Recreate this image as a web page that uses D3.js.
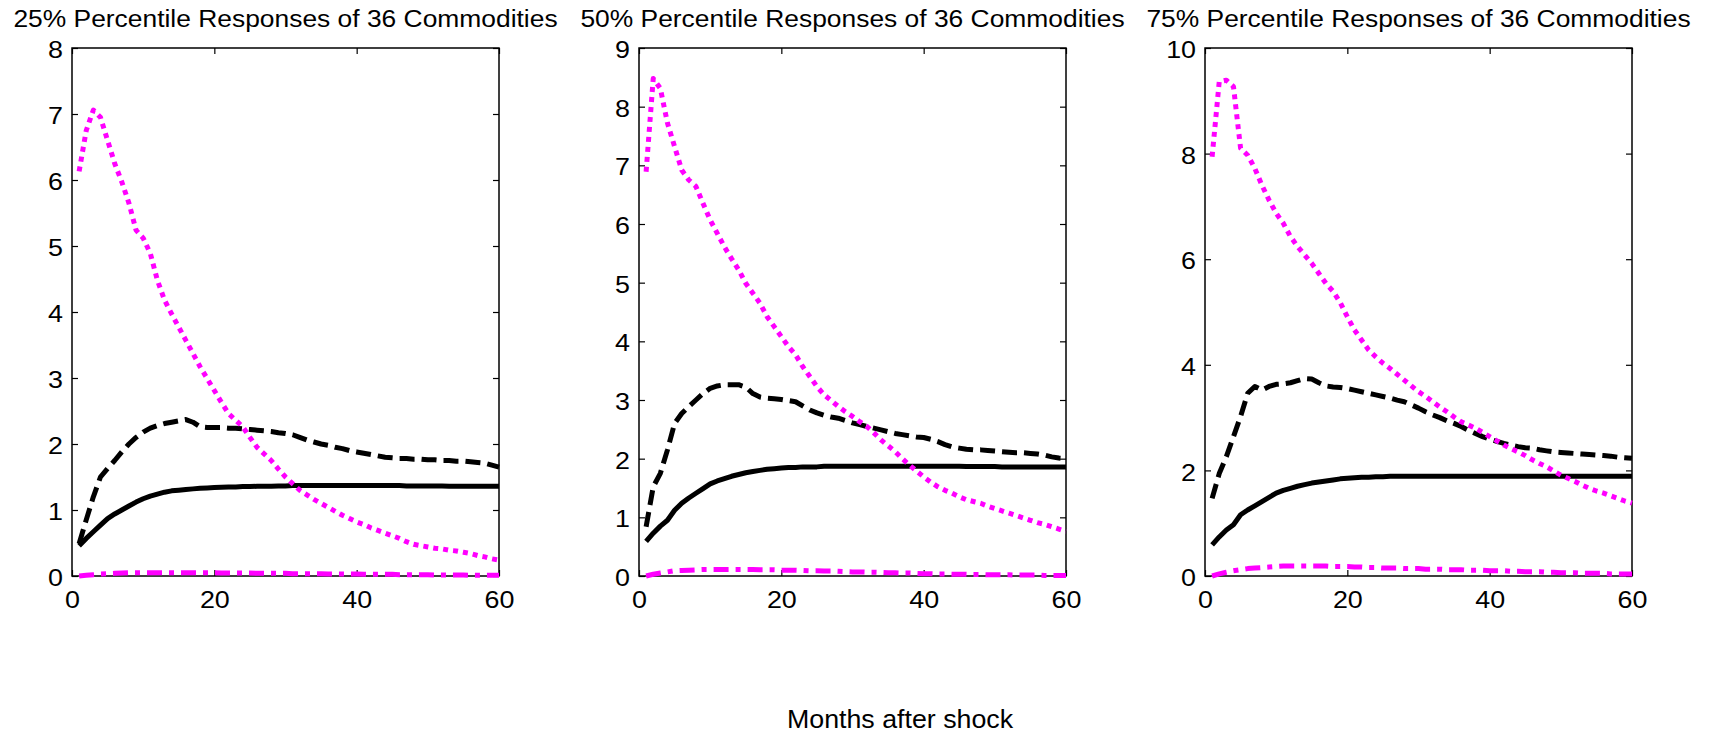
<!DOCTYPE html>
<html>
<head>
<meta charset="utf-8">
<script src="https://cdn.jsdelivr.net/npm/d3@7"></script>
<style>
body { margin: 0; background: #fff; }
svg text { font-family: "Liberation Sans", Arial, Helvetica, sans-serif; fill: #000; }
</style>
</head>
<body>
<svg id="chart" width="1716" height="736"></svg>
<script>
// months after shock
var months = d3.range(1, 61);

var xTicks = [0, 20, 40, 60];
var p25Ticks = [0, 1, 2, 3, 4, 5, 6, 7, 8];
var p50Ticks = [0, 1, 2, 3, 4, 5, 6, 7, 8, 9];
var p75Ticks = [0, 2, 4, 6, 8, 10];

var titles = [
    '25% Percentile Responses of 36 Commodities',
    '50% Percentile Responses of 36 Commodities',
    '75% Percentile Responses of 36 Commodities'
];
var xLabel = 'Months after shock';

// 25th percentile
var p25Solid = [0.46, 0.57, 0.67, 0.77, 0.87, 0.94, 1.00, 1.06, 1.12, 1.17,
    1.21, 1.24, 1.27, 1.29, 1.30, 1.31, 1.32, 1.33, 1.335, 1.34,
    1.345, 1.35, 1.35, 1.355, 1.355, 1.36, 1.36, 1.36, 1.365, 1.365,
    1.37, 1.37, 1.37, 1.37, 1.37, 1.37, 1.37, 1.37, 1.37, 1.37,
    1.37, 1.37, 1.37, 1.37, 1.37, 1.37, 1.365, 1.365, 1.365, 1.365,
    1.365, 1.365, 1.36, 1.36, 1.36, 1.36, 1.36, 1.36, 1.36, 1.36];
var p25Dash = [0.49, 0.85, 1.20, 1.50, 1.63, 1.75, 1.88, 2.00, 2.10, 2.18,
    2.24, 2.28, 2.31, 2.33, 2.35, 2.37, 2.33, 2.26, 2.25, 2.25,
    2.25, 2.24, 2.24, 2.23, 2.22, 2.21, 2.20, 2.19, 2.17, 2.16,
    2.14, 2.10, 2.06, 2.03, 2.00, 1.98, 1.95, 1.93, 1.90, 1.88,
    1.86, 1.84, 1.82, 1.80, 1.79, 1.78, 1.78, 1.77, 1.77, 1.76,
    1.76, 1.75, 1.75, 1.74, 1.74, 1.73, 1.72, 1.71, 1.68, 1.65];
var p25Dot = [6.13, 6.75, 7.06, 6.95, 6.60, 6.25, 5.97, 5.65, 5.24, 5.12,
    4.89, 4.48, 4.18, 3.97, 3.77, 3.57, 3.37, 3.17, 2.99, 2.81,
    2.63, 2.46, 2.36, 2.26, 2.10, 1.95, 1.85, 1.75, 1.62, 1.50,
    1.40, 1.30, 1.23, 1.16, 1.10, 1.04, 0.98, 0.92, 0.87, 0.82,
    0.78, 0.73, 0.69, 0.65, 0.61, 0.57, 0.52, 0.48, 0.46, 0.44,
    0.42, 0.41, 0.39, 0.38, 0.36, 0.34, 0.31, 0.29, 0.26, 0.24];
var p25DashDot = [0.00, 0.01, 0.02, 0.03, 0.035, 0.04, 0.045, 0.05, 0.05, 0.05,
    0.05, 0.05, 0.05, 0.05, 0.05, 0.05, 0.048, 0.048, 0.048, 0.048,
    0.045, 0.045, 0.045, 0.045, 0.045, 0.04, 0.04, 0.04, 0.04, 0.04,
    0.035, 0.035, 0.035, 0.035, 0.035, 0.03, 0.03, 0.03, 0.03, 0.03,
    0.025, 0.025, 0.025, 0.025, 0.025, 0.02, 0.02, 0.02, 0.02, 0.02,
    0.015, 0.015, 0.015, 0.015, 0.015, 0.01, 0.01, 0.01, 0.01, 0.01];

// 50th percentile
var p50Solid = [0.59, 0.73, 0.85, 0.95, 1.12, 1.24, 1.33, 1.41, 1.49, 1.57,
    1.62, 1.66, 1.70, 1.73, 1.76, 1.78, 1.80, 1.82, 1.83, 1.84,
    1.85, 1.85, 1.86, 1.86, 1.86, 1.87, 1.87, 1.87, 1.87, 1.87,
    1.87, 1.87, 1.87, 1.87, 1.87, 1.87, 1.87, 1.87, 1.87, 1.87,
    1.87, 1.87, 1.87, 1.87, 1.87, 1.865, 1.865, 1.865, 1.865, 1.865,
    1.86, 1.86, 1.86, 1.86, 1.86, 1.86, 1.86, 1.86, 1.86, 1.86];
var p50Dash = [0.84, 1.52, 1.75, 2.15, 2.60, 2.77, 2.89, 3.00, 3.11, 3.20,
    3.24, 3.26, 3.26, 3.26, 3.22, 3.11, 3.05, 3.03, 3.02, 3.01,
    2.99, 2.97, 2.90, 2.83, 2.78, 2.74, 2.71, 2.69, 2.65, 2.61,
    2.58, 2.55, 2.52, 2.49, 2.46, 2.43, 2.41, 2.39, 2.37, 2.36,
    2.33, 2.29, 2.24, 2.20, 2.18, 2.16, 2.15, 2.15, 2.14, 2.13,
    2.12, 2.11, 2.10, 2.10, 2.09, 2.08, 2.06, 2.03, 2.01, 2.00];
var p50Dot = [6.89, 8.48, 8.31, 7.72, 7.32, 6.92, 6.75, 6.64, 6.35, 6.07,
    5.84, 5.61, 5.41, 5.22, 4.99, 4.82, 4.65, 4.42, 4.25, 4.08,
    3.91, 3.77, 3.57, 3.40, 3.23, 3.09, 2.99, 2.89, 2.80, 2.72,
    2.63, 2.55, 2.44, 2.32, 2.22, 2.12, 2.00, 1.89, 1.79, 1.69,
    1.60, 1.52, 1.46, 1.41, 1.35, 1.30, 1.27, 1.24, 1.19, 1.15,
    1.11, 1.07, 1.03, 0.99, 0.95, 0.91, 0.88, 0.84, 0.80, 0.76];
var p50DashDot = [0.00, 0.03, 0.05, 0.07, 0.09, 0.095, 0.10, 0.105, 0.11, 0.11,
    0.11, 0.11, 0.11, 0.11, 0.11, 0.11, 0.105, 0.105, 0.105, 0.10,
    0.10, 0.10, 0.095, 0.09, 0.09, 0.085, 0.085, 0.08, 0.075, 0.07,
    0.07, 0.065, 0.065, 0.06, 0.055, 0.055, 0.05, 0.05, 0.045, 0.04,
    0.04, 0.035, 0.035, 0.03, 0.03, 0.03, 0.025, 0.025, 0.02, 0.02,
    0.02, 0.02, 0.015, 0.015, 0.015, 0.015, 0.01, 0.01, 0.01, 0.01];

// 75th percentile
var p75Solid = [0.59, 0.74, 0.87, 0.97, 1.16, 1.25, 1.33, 1.41, 1.49, 1.57,
    1.62, 1.66, 1.70, 1.73, 1.76, 1.78, 1.80, 1.82, 1.84, 1.85,
    1.86, 1.87, 1.87, 1.88, 1.88, 1.89, 1.89, 1.89, 1.89, 1.89,
    1.89, 1.89, 1.89, 1.89, 1.89, 1.89, 1.89, 1.89, 1.89, 1.89,
    1.89, 1.89, 1.89, 1.89, 1.89, 1.89, 1.89, 1.89, 1.89, 1.89,
    1.89, 1.89, 1.89, 1.89, 1.89, 1.89, 1.89, 1.89, 1.89, 1.89];
var p75Dash = [1.47, 1.94, 2.26, 2.64, 3.02, 3.46, 3.59, 3.52, 3.59, 3.63,
    3.64, 3.66, 3.70, 3.74, 3.73, 3.66, 3.60, 3.58, 3.57, 3.55,
    3.52, 3.49, 3.46, 3.43, 3.40, 3.37, 3.33, 3.30, 3.24, 3.18,
    3.11, 3.05, 3.00, 2.94, 2.89, 2.83, 2.76, 2.70, 2.64, 2.59,
    2.55, 2.51, 2.48, 2.45, 2.43, 2.42, 2.39, 2.37, 2.35, 2.34,
    2.33, 2.32, 2.31, 2.30, 2.29, 2.28, 2.27, 2.25, 2.24, 2.23];
var p75Dot = [7.94, 9.36, 9.39, 9.27, 8.10, 7.97, 7.72, 7.40, 7.12, 6.87,
    6.68, 6.43, 6.24, 6.08, 5.92, 5.73, 5.54, 5.39, 5.18, 4.91,
    4.66, 4.47, 4.28, 4.15, 4.03, 3.93, 3.82, 3.71, 3.60, 3.49,
    3.40, 3.30, 3.20, 3.11, 3.01, 2.92, 2.86, 2.80, 2.72, 2.64,
    2.56, 2.48, 2.41, 2.35, 2.28, 2.20, 2.13, 2.07, 1.99, 1.91,
    1.85, 1.79, 1.72, 1.66, 1.61, 1.57, 1.52, 1.47, 1.42, 1.38];
var p75DashDot = [0.00, 0.04, 0.07, 0.10, 0.12, 0.14, 0.15, 0.16, 0.17, 0.18,
    0.19, 0.19, 0.19, 0.19, 0.19, 0.19, 0.19, 0.18, 0.18, 0.18,
    0.17, 0.17, 0.16, 0.16, 0.15, 0.15, 0.15, 0.14, 0.14, 0.14,
    0.13, 0.13, 0.13, 0.12, 0.12, 0.12, 0.11, 0.11, 0.11, 0.10,
    0.10, 0.10, 0.09, 0.09, 0.08, 0.08, 0.08, 0.07, 0.07, 0.06,
    0.06, 0.06, 0.05, 0.05, 0.05, 0.05, 0.04, 0.04, 0.04, 0.04];

var panels = [
    { title: titles[0], left: 72, yMax: 8, ticks: p25Ticks,
      solid: p25Solid, dash: p25Dash, dot: p25Dot, dashDot: p25DashDot },
    { title: titles[1], left: 639, yMax: 9, ticks: p50Ticks,
      solid: p50Solid, dash: p50Dash, dot: p50Dot, dashDot: p50DashDot },
    { title: titles[2], left: 1205, yMax: 10, ticks: p75Ticks,
      solid: p75Solid, dash: p75Dash, dot: p75Dot, dashDot: p75DashDot }
];

var svg = d3.select('#chart');
var plotW = 427;
var plotTop = 48;
var plotBottom = 576;

var magenta = '#ff00ff';
var series = [
    { key: 'solid', color: '#000', width: 5, dash: null },
    { key: 'dash', color: '#000', width: 5, dash: '15,7' },
    { key: 'dot', color: magenta, width: 5, dash: '5,5' },
    { key: 'dashDot', color: magenta, width: 5, dash: '15,7,5,7' }
];

panels.forEach(function(p) {
    var x = d3.scaleLinear().domain([0, 60]).range([p.left, p.left + plotW]);
    var y = d3.scaleLinear().domain([0, p.yMax]).range([plotBottom, plotTop]);

    var g = svg.append('g');

    //Axes, ticks point inward like matlab
    var bottomAxis = g.append('g')
        .attr('transform', 'translate(0,' + plotBottom + ')')
        .call(d3.axisBottom(x).tickValues(xTicks).tickSizeInner(-6).tickSizeOuter(0).tickPadding(15));
    var topAxis = g.append('g')
        .attr('transform', 'translate(0,' + plotTop + ')')
        .call(d3.axisTop(x).tickValues(xTicks).tickSizeInner(-6).tickSizeOuter(0).tickFormat(''));
    var leftAxis = g.append('g')
        .attr('transform', 'translate(' + p.left + ',0)')
        .call(d3.axisLeft(y).tickValues(p.ticks).tickSizeInner(-6).tickSizeOuter(0).tickPadding(8));
    var rightAxis = g.append('g')
        .attr('transform', 'translate(' + (p.left + plotW) + ',0)')
        .call(d3.axisRight(y).tickValues(p.ticks).tickSizeInner(-6).tickSizeOuter(0).tickFormat(''));

    [bottomAxis, topAxis, leftAxis, rightAxis].forEach(function(a) {
        a.select('.domain').remove();
        a.selectAll('line').attr('stroke', '#000').attr('stroke-width', 1.2);
        a.selectAll('text')
            .attr('font-size', 24)
            .attr('fill', '#000')
            .attr('transform', 'scale(1.12,1)');
    });
    leftAxis.selectAll('text').attr('dy', '0.4em');

    g.append('rect')
        .attr('x', p.left)
        .attr('y', plotTop)
        .attr('width', plotW)
        .attr('height', plotBottom - plotTop)
        .attr('fill', 'none')
        .attr('stroke', '#000')
        .attr('stroke-width', 1.5);

    var line = d3.line()
        .x(function(d, i) { return x(months[i]); })
        .y(function(d) { return y(d); });

    series.forEach(function(s) {
        g.append('path')
            .datum(p[s.key])
            .attr('d', line)
            .attr('fill', 'none')
            .attr('stroke', s.color)
            .attr('stroke-width', s.width)
            .attr('stroke-dasharray', s.dash)
            .attr('stroke-linejoin', 'round');
    });

    g.append('g')
        .attr('transform', 'translate(' + (p.left + plotW / 2) + ',27) scale(1.1,1)')
        .append('text')
        .attr('text-anchor', 'middle')
        .attr('font-size', 24)
        .text(p.title);
});

svg.append('g')
    .attr('transform', 'translate(900,728) scale(1.03,1)')
    .append('text')
    .attr('text-anchor', 'middle')
    .attr('font-size', 26)
    .text(xLabel);
</script>
</body>
</html>
